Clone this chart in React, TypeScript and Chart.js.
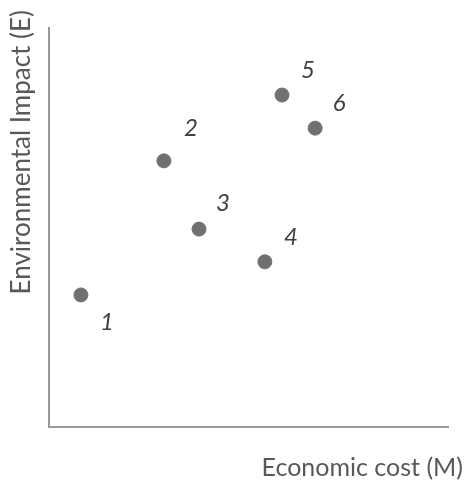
import React, { useEffect, useRef } from "react";
import { Chart, registerables } from "chart.js";

Chart.register(...registerables);

const pointNames = ["1", "2", "3", "4", "5", "6"];
const economicCost = [0.8, 2.88, 3.76, 5.41, 5.84, 6.67];
const environmentalImpact = [3.31, 6.67, 4.96, 4.14, 8.32, 7.49];
const xTitle = "Economic cost (M)";
const yTitle = "Environmental Impact (E)";

// label placement relative to each point (pixels)
const labelOffsets = [
  [26, 27],
  [27, -33],
  [24, -26],
  [26, -25],
  [26, -25],
  [24, -25],
];

const FONT = "Lato, 'Open Sans', sans-serif";

const labelsPlugin = {
  id: "pointLabelsAndTitles",
  afterDraw(chart: any) {
    const ctx = chart.ctx;
    const meta = chart.getDatasetMeta(0);
    ctx.save();
    ctx.fillStyle = "#404040";
    ctx.font = `italic 24px ${FONT}`;
    ctx.textAlign = "center";
    ctx.textBaseline = "middle";
    meta.data.forEach((el: any, i: number) => {
      const [dx, dy] = labelOffsets[i];
      ctx.fillText(pointNames[i], el.x + dx, el.y + dy);
    });
    // axis titles
    ctx.fillStyle = "#595959";
    ctx.font = `25px ${FONT}`;
    ctx.textAlign = "right";
    ctx.fillText(xTitle, chart.width - 3, 468);
    ctx.font = `26px ${FONT}`;
    ctx.translate(22, 10);
    ctx.rotate(-Math.PI / 2);
    ctx.textAlign = "right";
    ctx.fillText(yTitle, 0, 0);
    ctx.restore();
  },
};

export default function App() {
  const ref = useRef<HTMLCanvasElement>(null);
  useEffect(() => {
    if (!ref.current) return;
    const chart = new Chart(ref.current, {
      type: "scatter",
      data: {
        datasets: [
          {
            data: economicCost.map((x, i) => ({ x, y: environmentalImpact[i] })),
            backgroundColor: "#707070",
            borderColor: "#707070",
            pointRadius: 7,
            pointHoverRadius: 7,
          },
        ],
      },
      options: {
        animation: false,
        responsive: false,
        maintainAspectRatio: false,
        layout: { padding: { left: 49, top: 28, right: 18, bottom: 56 } },
        plugins: { legend: { display: false }, tooltip: { enabled: false }, title: { display: false } },
        scales: {
          x: {
            type: "linear",
            min: 0,
            max: 10,
            ticks: { display: false },
            grid: { display: false, drawTicks: false },
            border: { display: true, color: "#9a9a9a", width: 2 },
          },
          y: {
            type: "linear",
            min: 0,
            max: 10,
            ticks: { display: false },
            grid: { display: false, drawTicks: false },
            border: { display: true, color: "#9a9a9a", width: 2 },
          },
        },
      },
      plugins: [labelsPlugin],
    });
    return () => chart.destroy();
  }, []);
  return (
    <div style={{ position: "fixed", left: 0, top: 0, width: 466, height: 483, background: "#fff" }}>
      <canvas ref={ref} width={466} height={483} style={{ width: 466, height: 483 }} />
    </div>
  );
}
